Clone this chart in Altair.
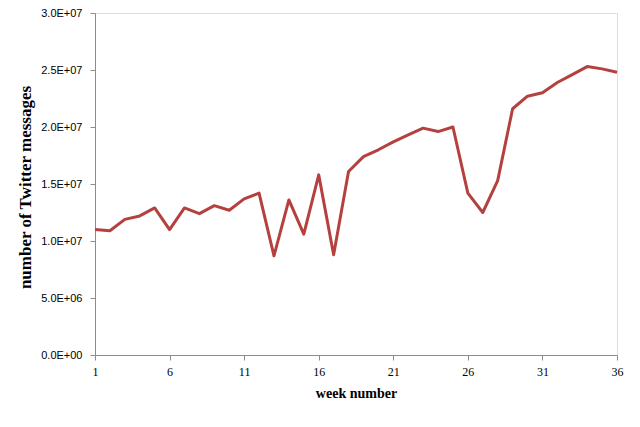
import altair as alt
import pandas as pd

weeks = list(range(1, 37))
messages = [
    1.10e7, 1.09e7, 1.19e7, 1.22e7, 1.29e7, 1.10e7, 1.29e7, 1.24e7, 1.31e7, 1.27e7,
    1.37e7, 1.42e7, 0.87e7, 1.36e7, 1.06e7, 1.58e7, 0.88e7, 1.61e7, 1.74e7, 1.80e7,
    1.87e7, 1.93e7, 1.99e7, 1.96e7, 2.00e7, 1.42e7, 1.25e7, 1.53e7, 2.16e7, 2.27e7,
    2.30e7, 2.39e7, 2.46e7, 2.53e7, 2.51e7, 2.48e7,
]
x_ticks = [1, 6, 11, 16, 21, 26, 31, 36]
y_ticks = [0, 5e6, 1e7, 1.5e7, 2e7, 2.5e7, 3e7]
y_tick_labels = ["0.0E+00", "5.0E+06", "1.0E+07", "1.5E+07", "2.0E+07", "2.5E+07", "3.0E+07"]

df = pd.DataFrame({"week": weeks, "messages": messages})

label_expr = "''"
for v, lab in reversed(list(zip(y_ticks, y_tick_labels))):
    label_expr = f"abs(datum.value - {v}) < 1 ? '{lab}' : ({label_expr})"

axis_color = "#8c8c8c"

chart = alt.Chart(df).mark_line(color="#B5413F", strokeWidth=3, strokeJoin="round").encode(
    x=alt.X(
        "week:Q",
        scale=alt.Scale(domain=[1, 36], nice=False, zero=False),
        axis=alt.Axis(
            values=x_ticks, title="week number", grid=False,
            domainColor=axis_color, tickColor=axis_color, tickSize=5,
            labelFont="Liberation Serif", labelFontSize=12, labelColor="#000000",
            labelPadding=6, labelFlush=False,
            titleFont="Liberation Serif", titleFontSize=14, titleFontWeight="bold",
            titleColor="#000000", titleX=261, titleY=38, titleBaseline="middle",
        ),
    ),
    y=alt.Y(
        "messages:Q",
        scale=alt.Scale(domain=[0, 3e7], nice=False),
        axis=alt.Axis(
            values=y_ticks, labelExpr=label_expr, title="number of Twitter messages", grid=False,
            domainColor=axis_color, tickColor=axis_color, tickSize=5,
            labelFont="Liberation Sans", labelFontSize=11, labelColor="#000000",
            labelPadding=8, labelFlush=False,
            titleFont="Liberation Serif", titleFontSize=17, titleFontWeight="bold",
            titleColor="#000000", titleX=-70, titleY=174, titleBaseline="middle",
            titleAlign="center", titleAngle=-90,
        ),
    ),
).properties(
    width=522,
    height=342,
    autosize=alt.AutoSizeParams(type="none"),
    padding={"left": 87, "top": 5, "right": 15, "bottom": 63},
).configure_view(stroke=None).configure(background="#ffffff")

chart.save("out.html", embed_options={"renderer": "svg", "actions": False})
